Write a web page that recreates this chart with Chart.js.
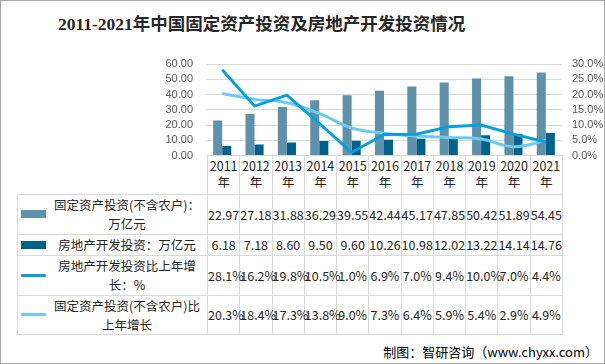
<!DOCTYPE html>
<html>
<head>
<meta charset="utf-8">
<script src="https://cdn.jsdelivr.net/npm/chart.js@4/dist/chart.umd.min.js"></script>
<style>
  body { margin: 0; background: #fff; }
  #wrap { position: relative; width: 605px; height: 364px; border: 1px solid #a6a6a6; box-sizing: border-box; overflow: hidden; font-family: "Noto Sans CJK SC", sans-serif; color: #262626; }
  #title { position: absolute; left: 57px; top: 11px; font: bold 17.5px/24px "Liberation Serif", "Noto Sans CJK SC", serif; color: #262626; white-space: nowrap; }
  #chart { position: absolute; left: -1px; top: -1px; z-index: 2; }
  #tbl { position: absolute; left: 16px; top: 154px; border-collapse: collapse; table-layout: fixed; width: 546px; font-size: 12.5px; z-index: 1; }
  #tbl td { border: 1px solid #d9d9d9; padding: 0; text-align: center; white-space: nowrap; overflow: visible; }
  #tbl td.corner { border-top: none; border-left: none; }
  #tbl tr.head td { border-top: none; line-height: 16px; }
  .lab { display: flex; align-items: center; }
  .sw { width: 25px; margin-left: 3px; flex: none; }
  .txt { width: 152px; margin-left: 5px; text-align: center; line-height: 19px; white-space: normal; }
  #foot { position: absolute; right: 6px; top: 342px; font-size: 13px; line-height: 18px; color: #000; white-space: nowrap; }
</style>
</head>
<body>
<div id="wrap">
  <div id="title">2011-2021年中国固定资产投资及房地产开发投资情况</div>
  <canvas id="chart" width="605" height="174"></canvas>
  <table id="tbl"></table>
  <div id="foot">制图：智研咨询（www.chyxx.com）</div>
</div>
<script>
// 数据
const years = ['2011', '2012', '2013', '2014', '2015', '2016', '2017', '2018', '2019', '2020', '2021'];
const fixedInvest = [22.97, 27.18, 31.88, 36.29, 39.55, 42.44, 45.17, 47.85, 50.42, 51.89, 54.45];
const estateInvest = [6.18, 7.18, 8.60, 9.50, 9.60, 10.26, 10.98, 12.02, 13.22, 14.14, 14.76];
const estateGrowth = [28.1, 16.2, 19.8, 10.5, 1.0, 6.9, 7.0, 9.4, 10.0, 7.0, 4.4];
const fixedGrowth = [20.3, 18.4, 17.3, 13.8, 9.0, 7.3, 6.4, 5.9, 5.4, 2.9, 4.9];

const names = [
  ['固定资产投资(不含农户)：', '万亿元'],
  ['房地产开发投资：万亿元'],
  ['房地产开发投资比上年增', '长：%'],
  ['固定资产投资(不含农户)比', '上年增长']
];
const colors = ['#5e92aa', '#00628a', '#0a9fdb', '#6bcbf1'];

// 表格
const tbl = document.getElementById('tbl');
let html = '<colgroup><col style="width:190px">' + years.map(() => '<col>').join('') + '</colgroup>';
html += '<tr class="head" style="height:39px"><td class="corner"></td>' + years.map(y => `<td>${y}<br>年</td>`).join('') + '</tr>';
const rows = [
  fixedInvest.map(v => v.toFixed(2)),
  estateInvest.map(v => v.toFixed(2)),
  estateGrowth.map(v => v.toFixed(1) + '%'),
  fixedGrowth.map(v => v.toFixed(1) + '%')
];
const heights = [40, 21, 40, 39];
rows.forEach((r, i) => {
  const sw = i < 2 ? `height:8px;background:${colors[i]}` : `height:3px;background:${colors[i]};border-radius:1px`;
  html += `<tr style="height:${heights[i]}px"><td><div class="lab"><div class="sw" style="${sw}"></div><div class="txt">${names[i].join('<br>')}</div></div></td>`;
  html += r.map(v => `<td>${v}</td>`).join('') + '</tr>';
});
tbl.innerHTML = html;

// 图表
const ctx = document.getElementById('chart').getContext('2d');
const tickFont = { family: 'Liberation Sans', size: 11, lineHeight: 1 };
new Chart(ctx, {
  data: {
    labels: years,
    datasets: [
      { type: 'bar', label: names[0].join(''), data: fixedInvest, backgroundColor: colors[0], yAxisID: 'y', order: 3 },
      { type: 'bar', label: names[1].join(''), data: estateInvest, backgroundColor: colors[1], yAxisID: 'y', order: 3 },
      { type: 'line', label: names[2].join(''), data: estateGrowth, borderColor: colors[2], borderWidth: 3, pointRadius: 0, tension: 0, yAxisID: 'y1', order: 1 },
      { type: 'line', label: names[3].join(''), data: fixedGrowth, borderColor: colors[3], borderWidth: 3, pointRadius: 0, tension: 0.4, yAxisID: 'y1', order: 2 }
    ]
  },
  options: {
    responsive: false,
    animation: false,
    devicePixelRatio: 1,
    layout: { padding: { top: 64, bottom: 12, left: 0, right: 0 } },
    datasets: { bar: { categoryPercentage: 0.56, barPercentage: 1.0 } },
    plugins: { legend: { display: false }, tooltip: { enabled: false } },
    scales: {
      x: { display: false },
      y: {
        position: 'left', min: 0, max: 60,
        ticks: { stepSize: 10, autoSkip: false, padding: 13, color: '#595959', font: tickFont, callback: v => v.toFixed(2) },
        grid: { color: '#d9d9d9', drawTicks: false },
        border: { display: false },
        afterFit: s => { s.width = 206; }
      },
      y1: {
        position: 'right', min: 0, max: 30,
        ticks: { stepSize: 5, autoSkip: false, padding: 10, color: '#595959', font: tickFont, callback: v => v.toFixed(1) + '%' },
        grid: { drawOnChartArea: false, drawTicks: false },
        border: { display: false },
        afterFit: s => { s.width = 43; }
      }
    }
  }
});
</script>
</body>
</html>
